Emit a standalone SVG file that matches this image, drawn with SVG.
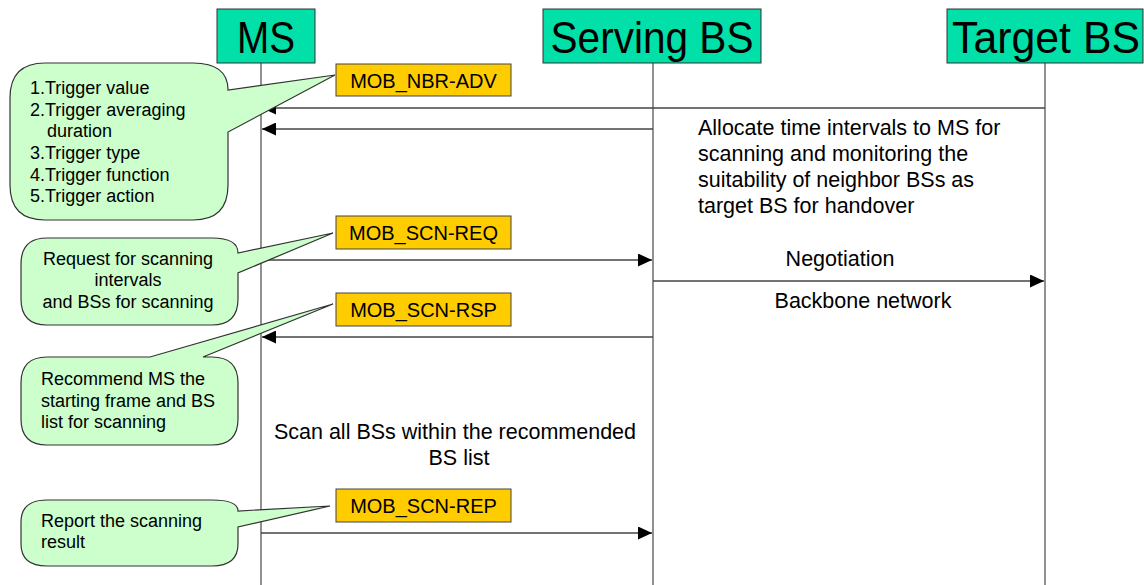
<svg xmlns="http://www.w3.org/2000/svg" width="1144" height="585" viewBox="0 0 1144 585">
<defs>
<style>
.hdr{fill:#00E0A8;stroke:#333;stroke-width:1}
.htxt{font-family:"Liberation Sans",Arial,sans-serif;font-size:44px;fill:#000;text-anchor:middle}
.life{stroke:#555;stroke-width:1.3;fill:none}
.msg{stroke:#444;stroke-width:1.4;fill:none;marker-end:url(#ah)}
.lbl{fill:#FFCC00;stroke:#444;stroke-width:1}
.ltxt{font-family:"Liberation Sans",Arial,sans-serif;font-size:20px;fill:#000;text-anchor:middle}
.call{fill:#CCFFCC;stroke:#333;stroke-width:1.2}
.ctxt{font-family:"Liberation Sans",Arial,sans-serif;font-size:18px;fill:#000}
.btxt{font-family:"Liberation Sans",Arial,sans-serif;font-size:21.5px;fill:#000}
</style>
<marker id="ah" viewBox="0 0 14 13" refX="14" refY="6.5" markerWidth="14" markerHeight="13" markerUnits="userSpaceOnUse" orient="auto">
<path d="M0,0 L14,6.5 L0,13 Z" fill="#000"/>
</marker>
</defs>
<rect width="1144" height="585" fill="#fff"/>

<g id="node-ms">
<line class="life" x1="261" y1="63" x2="261" y2="585"/>
<rect class="hdr" x="217" y="9" width="98" height="54"/>
<text class="htxt" x="266" y="53" textLength="58" lengthAdjust="spacingAndGlyphs">MS</text>
</g>
<g id="node-serving">
<line class="life" x1="653" y1="63" x2="653" y2="585"/>
<rect class="hdr" x="543" y="9" width="218" height="54"/>
<text class="htxt" x="652" y="53" textLength="203" lengthAdjust="spacingAndGlyphs">Serving BS</text>
</g>
<g id="node-target">
<line class="life" x1="1045" y1="63" x2="1045" y2="585"/>
<rect class="hdr" x="947" y="9" width="196" height="54"/>
<text class="htxt" x="1046" y="53" textLength="188" lengthAdjust="spacingAndGlyphs">Target BS</text>
</g>

<g id="connectors">
<line class="msg" x1="1045" y1="108" x2="262" y2="108"/>
<line class="msg" x1="653" y1="129" x2="262" y2="129"/>
<line class="msg" x1="261" y1="260" x2="652" y2="260"/>
<line class="msg" x1="653" y1="281" x2="1044" y2="281"/>
<line class="msg" x1="653" y1="337" x2="262" y2="337"/>
<line class="msg" x1="261" y1="533" x2="652" y2="533"/>
</g>

<g id="label-nbr-adv">
<rect class="lbl" x="336" y="64" width="175" height="32"/>
<text class="ltxt" x="423.5" y="88">MOB_NBR-ADV</text>
</g>
<g id="label-scn-req">
<rect class="lbl" x="336" y="216" width="175" height="33"/>
<text class="ltxt" x="423.5" y="240">MOB_SCN-REQ</text>
</g>
<g id="label-scn-rsp">
<rect class="lbl" x="336" y="293" width="175" height="33"/>
<text class="ltxt" x="423.5" y="317">MOB_SCN-RSP</text>
</g>
<g id="label-scn-rep">
<rect class="lbl" x="336" y="489" width="175" height="33"/>
<text class="ltxt" x="423.5" y="513">MOB_SCN-REP</text>
</g>

<g id="callout-trigger">
<path class="call" d="M45,63 H193 Q228,63 228,90 L335,75 L228,132 V185 Q228,220 193,220 H45 Q10,220 10,185 V98 Q10,63 45,63 Z"/>
<text class="ctxt" x="30" y="94">1.Trigger value</text>
<text class="ctxt" x="30" y="116">2.Trigger averaging</text>
<text class="ctxt" x="47" y="137">duration</text>
<text class="ctxt" x="30" y="159">3.Trigger type</text>
<text class="ctxt" x="30" y="181">4.Trigger function</text>
<text class="ctxt" x="30" y="202">5.Trigger action</text>
</g>
<g id="callout-request">
<path class="call" d="M47,238 H212 Q238,238 238,253 L333,233 L238,273 V299 Q238,325 212,325 H47 Q21,325 21,299 V264 Q21,238 47,238 Z"/>
<text class="ctxt" x="128" y="265" text-anchor="middle">Request for scanning</text>
<text class="ctxt" x="128" y="286" text-anchor="middle">intervals</text>
<text class="ctxt" x="128" y="308" text-anchor="middle">and BSs for scanning</text>
</g>
<g id="callout-recommend">
<path class="call" d="M47,357 H150 L333,304 L203,357 H212 Q238,357 238,383 V419 Q238,445 212,445 H47 Q21,445 21,419 V383 Q21,357 47,357 Z"/>
<text class="ctxt" x="41" y="385">Recommend MS the</text>
<text class="ctxt" x="41" y="407">starting frame and BS</text>
<text class="ctxt" x="41" y="428">list for scanning</text>
</g>
<g id="callout-report">
<path class="call" d="M47,500 H212 Q238,500 238,511 L330,506 L238,527 V544 Q238,566 212,566 H47 Q21,566 21,544 V522 Q21,500 47,500 Z"/>
<text class="ctxt" x="41" y="527">Report the scanning</text>
<text class="ctxt" x="41" y="548">result</text>
</g>

<g id="notes">
<text class="btxt" x="698" y="135">Allocate time intervals to MS for</text>
<text class="btxt" x="698" y="161">scanning and monitoring the</text>
<text class="btxt" x="698" y="187">suitability of neighbor BSs as</text>
<text class="btxt" x="698" y="213">target BS for handover</text>
<text class="btxt" x="840" y="266" text-anchor="middle">Negotiation</text>
<text class="btxt" x="863" y="308" text-anchor="middle">Backbone network</text>
<text class="btxt" x="455" y="439" text-anchor="middle">Scan all BSs within the recommended</text>
<text class="btxt" x="459" y="465" text-anchor="middle">BS list</text>
</g>
</svg>
